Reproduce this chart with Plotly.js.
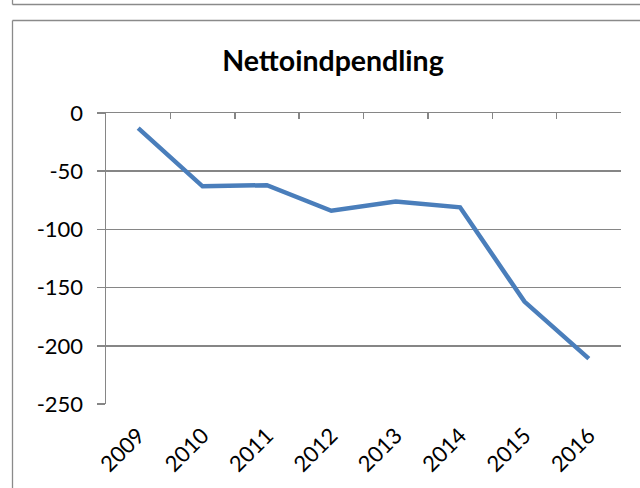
<!DOCTYPE html>
<html>
<head>
<meta charset="utf-8">
<script src="https://cdn.plot.ly/plotly-3.0.1.min.js"></script>
<style>html,body{margin:0;padding:0;background:#fff;}#chart{width:640px;height:488px;}</style>
</head>
<body>
<div id="chart"></div>
<script>
const years = ["2009","2010","2011","2012","2013","2014","2015","2016"];
const nettoindpendling = [-13, -63, -62, -84, -76, -81, -162, -211];
const yTickValues = [0, -50, -100, -150, -200, -250];
const yTickLabels = ["0", "-50", "-100", "-150", "-200", "-250"];
const chartTitle = "Nettoindpendling";

const W = 640, H = 488;
const M = {l: 106, r: 19, t: 113, b: 84};
const pw = W - M.l - M.r, ph = H - M.t - M.b;
const px = x => (x - M.l) / pw;
const py = y => (H - M.b - y) / ph;
const frame = '#8a8a8a';
const grid = '#868686';

const traces = [
  {x: years, y: nettoindpendling, type: 'scatter', mode: 'lines',
   line: {color: '#4a7ebb', width: 4.5}, hoverinfo: 'x+y', cliponaxis: false},
  {x: years, y: nettoindpendling, type: 'scatter', mode: 'lines', xaxis: 'x2',
   line: {color: 'rgba(0,0,0,0)', width: 0}, hoverinfo: 'skip', showlegend: false}
];

const layout = {
  width: W, height: H,
  margin: M,
  paper_bgcolor: '#fff', plot_bgcolor: '#fff',
  showlegend: false,
  font: {family: 'Lato, "Open Sans", sans-serif', color: '#000', size: 22},
  title: {text: '<b>' + chartTitle + '</b>', font: {size: 28.5, color: '#000', family: 'Lato, sans-serif'},
          xref: 'container', yref: 'container', x: 333/640, xanchor: 'center', y: 1 - 61/488, yanchor: 'middle'},
  xaxis: {type: 'category', categoryarray: years, range: [-0.5, 7.5], fixedrange: true,
          showgrid: false, zeroline: false, showline: false,
          ticks: 'outside', ticklen: 9, tickcolor: 'rgba(0,0,0,0)', tickangle: -45,
          tickfont: {size: 22}},
  xaxis2: {type: 'category', categoryarray: years, range: [-0.5, 7.5], overlaying: 'x', side: 'top',
           anchor: 'y', fixedrange: true, showgrid: false, zeroline: false,
           showline: true, linecolor: grid, linewidth: 1.5,
           tickson: 'boundaries', ticks: 'inside', ticklen: 6, tickwidth: 1.5, tickcolor: grid,
           showticklabels: false},
  yaxis: {range: [-250, 0], tickmode: 'array', tickvals: yTickValues, ticktext: yTickLabels, fixedrange: true,
          showgrid: true, gridcolor: grid, gridwidth: 1.5, zeroline: false,
          showline: true, linecolor: grid, linewidth: 1.5,
          ticks: 'outside', ticklen: 8, tickwidth: 1.5, tickcolor: grid,
          ticklabelstandoff: 9, tickfont: {size: 22}},
  shapes: [
    {type: 'line', xref: 'paper', yref: 'paper', x0: px(12.5), x1: px(700), y0: py(4.5), y1: py(4.5), line: {color: frame, width: 1.3}},
    {type: 'line', xref: 'paper', yref: 'paper', x0: px(12.5), x1: px(12.5), y0: py(-10), y1: py(4.5), line: {color: frame, width: 1.3}},
    {type: 'line', xref: 'paper', yref: 'paper', x0: px(12.5), x1: px(700), y0: py(20.5), y1: py(20.5), line: {color: frame, width: 1.3}},
    {type: 'line', xref: 'paper', yref: 'paper', x0: px(12.5), x1: px(12.5), y0: py(20.5), y1: py(520), line: {color: frame, width: 1.3}}
  ]
};

Plotly.newPlot('chart', traces, layout, {displayModeBar: false, staticPlot: true});
</script>
</body>
</html>
